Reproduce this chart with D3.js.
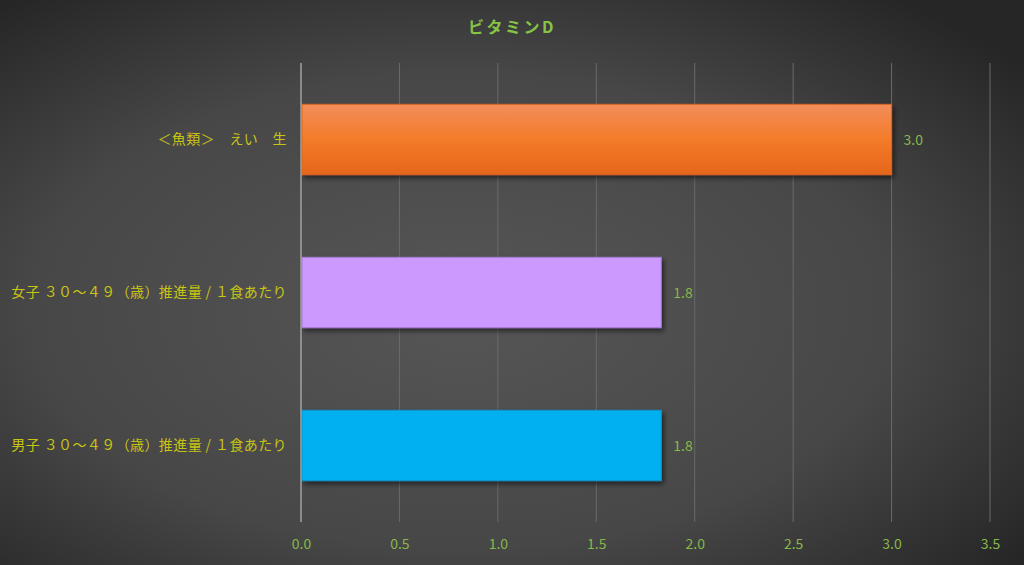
<!DOCTYPE html>
<html>
<head>
<meta charset="utf-8">
<script src="https://cdn.jsdelivr.net/npm/d3@7"></script>
<style>
  html, body { margin: 0; padding: 0; background: #333; }
  svg { display: block; }
  text { font-family: "Noto Sans CJK JP", "Noto Sans", sans-serif; }
</style>
</head>
<body>
<svg id="svg" width="1024" height="565"></svg>
<script>
// chart data
const categories = [
  "＜魚類＞　えい　生",
  "女子 ３０～４９（歳）推進量 / １食あたり",
  "男子 ３０～４９（歳）推進量 / １食あたり"
];
const values = [3.0, 1.83, 1.83];
const barColors = ["#f07a2c", "#cc99ff", "#00b0f0"];
const barBorders = ["#d9661c", "#a57bd6", "#0a96cc"];
const xTicks = [0, 0.5, 1.0, 1.5, 2.0, 2.5, 3.0, 3.5];
const title = "ビタミンD";

const W = 1024, H = 565;
const margin = {top: 63, right: 34, bottom: 43, left: 301};

const svg = d3.select("#svg");
const defs = svg.append("defs");

// dark radial background
const bg = defs.append("radialGradient").attr("id", "bg")
  .attr("cx", "45%").attr("cy", "55%").attr("r", "70%");
bg.append("stop").attr("offset", "0%").attr("stop-color", "#565656");
bg.append("stop").attr("offset", "60%").attr("stop-color", "#474747");
bg.append("stop").attr("offset", "100%").attr("stop-color", "#262626");
svg.append("rect").attr("width", W).attr("height", H).attr("fill", "url(#bg)");

// orange bar gets a soft vertical gradient
const og = defs.append("linearGradient").attr("id", "g0")
  .attr("x1", 0).attr("y1", 0).attr("x2", 0).attr("y2", 1);
og.append("stop").attr("offset", "0%").attr("stop-color", "#f28d5b");
og.append("stop").attr("offset", "50%").attr("stop-color", "#f47b2a");
og.append("stop").attr("offset", "100%").attr("stop-color", "#e5661a");

const shadow = defs.append("filter").attr("id", "shadow")
  .attr("x", "-5%").attr("y", "-20%").attr("width", "115%").attr("height", "150%");
shadow.append("feDropShadow").attr("dx", 2).attr("dy", 3).attr("stdDeviation", 2.5)
  .attr("flood-color", "#000").attr("flood-opacity", 0.55);

const x = d3.scaleLinear().domain([0, 3.5]).range([margin.left, W - margin.right]);
const y = d3.scaleBand().domain(categories)
  .range([margin.top, H - margin.bottom]).paddingInner(0.54).paddingOuter(0.27);

// title
svg.append("text")
  .attr("x", 512).attr("y", 33)
  .attr("text-anchor", "middle")
  .attr("font-size", 16).attr("font-weight", "bold")
  .attr("letter-spacing", 2.5)
  .attr("fill", "#86c444")
  .text(title);

// vertical gridlines
svg.append("g").selectAll("line")
  .data(xTicks.slice(1))
  .join("line")
  .attr("x1", d => x(d)).attr("x2", d => x(d))
  .attr("y1", margin.top).attr("y2", H - margin.bottom)
  .attr("stroke", "#6a6a6a").attr("stroke-width", 1);

// bars
svg.append("g").selectAll("rect")
  .data(values)
  .join("rect")
  .attr("x", x(0) + 1)
  .attr("y", (d, i) => y(categories[i]))
  .attr("width", d => x(d) - x(0) - 1)
  .attr("height", y.bandwidth())
  .attr("fill", (d, i) => i === 0 ? "url(#g0)" : barColors[i])
  .attr("stroke", (d, i) => barBorders[i])
  .attr("stroke-width", 1)
  .attr("filter", "url(#shadow)");

// value axis line at zero
svg.append("line")
  .attr("x1", x(0)).attr("x2", x(0))
  .attr("y1", margin.top).attr("y2", H - margin.bottom)
  .attr("stroke", "#b0b0b0").attr("stroke-width", 1.3);

// data labels
svg.append("g").selectAll("text")
  .data(values)
  .join("text")
  .attr("x", d => x(d) + 12)
  .attr("y", (d, i) => y(categories[i]) + y.bandwidth() / 2 + 1)
  .attr("dy", "0.35em")
  .attr("font-size", 14)
  .attr("fill", "#86b84a")
  .text(d => d3.format(".1f")(d));

// category labels
svg.append("g").selectAll("text")
  .data(categories)
  .join("text")
  .attr("x", 287)
  .attr("y", d => y(d) + y.bandwidth() / 2)
  .attr("dy", "0.35em")
  .attr("text-anchor", "end")
  .attr("font-size", 14)
  .attr("letter-spacing", 0.4)
  .attr("fill", "#c8c414")
  .text(d => d);

// x axis tick labels
const xAxis = d3.axisBottom(x).tickValues(xTicks).tickFormat(d3.format(".1f")).tickSize(0).tickPadding(17);
const ax = svg.append("g").attr("transform", `translate(0,${H - margin.bottom})`).call(xAxis);
ax.select(".domain").remove();
ax.selectAll("text")
  .attr("font-size", 14)
  .attr("fill", "#86b84a")
  .attr("font-family", "'Noto Sans CJK JP', 'Noto Sans', sans-serif");
</script>
</body>
</html>
